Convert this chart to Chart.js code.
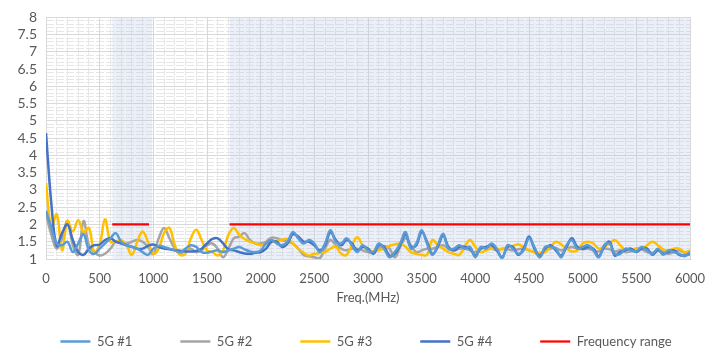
<!DOCTYPE html>
<html>
<head>
<meta charset="utf-8">
<title>VSWR</title>
<script src="https://cdn.jsdelivr.net/npm/chart.js@4.4.1/dist/chart.umd.min.js"></script>
<style>
  html, body { margin: 0; padding: 0; background: #fff; }
  .chart-box { width: 722px; height: 358px; position: relative; }
</style>
</head>
<body>
<div class="chart-box"><canvas id="vswrChart"></canvas></div>
<script>
// frequency points (MHz)
const freq = [
  0, 50, 100, 150, 200, 250, 300, 350, 400, 450,
  500, 550, 600, 650, 700, 750, 800, 850, 900, 950,
  1000, 1050, 1100, 1150, 1200, 1250, 1300, 1350, 1400, 1450,
  1500, 1550, 1600, 1650, 1700, 1750, 1800, 1850, 1900, 1950,
  2000, 2050, 2100, 2150, 2200, 2250, 2300, 2350, 2400, 2450,
  2500, 2550, 2600, 2650, 2700, 2750, 2800, 2850, 2900, 2950,
  3000, 3050, 3100, 3150, 3200, 3250, 3300, 3350, 3400, 3450,
  3500, 3550, 3600, 3650, 3700, 3750, 3800, 3850, 3900, 3950,
  4000, 4050, 4100, 4150, 4200, 4250, 4300, 4350, 4400, 4450,
  4500, 4550, 4600, 4650, 4700, 4750, 4800, 4850, 4900, 4950,
  5000, 5050, 5100, 5150, 5200, 5250, 5300, 5350, 5400, 5450,
  5500, 5550, 5600, 5650, 5700, 5750, 5800, 5850, 5900, 5950,
  6000
];

const ant1 = [
  2.4, 1.9, 1.45, 1.4, 1.5, 1.2, 1.45, 1.72, 1.25, 1.15,
  1.3, 1.45, 1.6, 1.75, 1.5, 1.4, 1.35, 1.3, 1.2, 1.12,
  1.3, 1.38, 1.35, 1.3, 1.25, 1.2, 1.3, 1.4, 1.35, 1.2,
  1.18, 1.22, 1.25, 1.2, 1.25, 1.3, 1.35, 1.28, 1.22, 1.2,
  1.25, 1.45, 1.55, 1.45, 1.4, 1.5, 1.78, 1.6, 1.45, 1.55,
  1.45, 1.2, 1.45, 1.83, 1.5, 1.45, 1.6, 1.4, 1.2, 1.4,
  1.25, 1.2, 1.45, 1.3, 1.05, 1.2, 1.45, 1.78, 1.3, 1.45,
  1.83, 1.45, 1.12, 1.4, 1.73, 1.3, 1.3, 1.4, 1.3, 1.35,
  1.05, 1.35, 1.3, 1.45, 1.3, 1.02, 1.4, 1.3, 1.15, 1.25,
  1.6, 1.35, 1.05, 1.35, 1.35, 1.3, 1.05, 1.4, 1.55, 1.3,
  1.35, 1.4, 1.25, 1.05, 1.4, 1.45, 1.15, 1.15, 1.3, 1.25,
  1.22, 1.35, 1.25, 1.15, 1.3, 1.12, 1.25, 1.2, 1.15, 1.08,
  1.2
];

const ant2 = [
  2.3, 1.7, 1.3, 1.6, 2.1, 1.4, 1.12, 2.1, 1.4, 1.2,
  1.1, 1.15, 1.3, 1.5, 1.5, 1.45, 1.5, 1.55, 1.5, 1.35,
  1.15, 1.6, 1.9, 1.6, 1.3, 1.15, 1.25, 1.3, 1.2, 1.25,
  1.4, 1.45, 1.3, 1.05, 1.3, 1.6, 1.65, 1.75, 1.55, 1.45,
  1.45, 1.5, 1.62, 1.6, 1.55, 1.5, 1.45, 1.3, 1.12, 1.08,
  1.05, 1.02, 1.3, 1.55, 1.4, 1.3, 1.25, 1.3, 1.3, 1.25,
  1.2, 1.18, 1.3, 1.38, 1.3, 1.05, 1.35, 1.6, 1.4, 1.2,
  1.25, 1.3, 1.3, 1.35, 1.4, 1.3, 1.25, 1.3, 1.3, 1.25,
  1.2, 1.3, 1.35, 1.3, 1.25, 1.3, 1.28, 1.25, 1.28, 1.3,
  1.25, 1.2, 1.07, 1.25, 1.3, 1.32, 1.25, 1.3, 1.35, 1.3,
  1.28, 1.3, 1.25, 1.22, 1.3, 1.28, 1.22, 1.25, 1.2, 1.22,
  1.3, 1.28, 1.2, 1.18, 1.25, 1.22, 1.15, 1.2, 1.25, 1.18,
  1.22
];

const ant3 = [
  3.2, 1.9, 2.3, 1.25, 2.1, 1.8, 2.12, 1.78, 1.9, 1.2,
  1.42, 2.15, 1.5, 1.5, 1.55, 1.4, 1.12, 1.5, 1.8, 1.5,
  1.15, 1.3, 1.75, 1.9, 1.4, 1.12, 1.15, 1.6, 1.85, 1.55,
  1.25, 1.2, 1.1, 1.25, 1.7, 1.9, 1.7, 1.58, 1.5, 1.45,
  1.4, 1.42, 1.5, 1.52, 1.56, 1.58, 1.45, 1.3, 1.18, 1.1,
  1.15, 1.17, 1.2, 1.3, 1.35, 1.15, 1.12, 1.4, 1.63, 1.4,
  1.25, 1.22, 1.25, 1.3, 1.38, 1.42, 1.45, 1.35, 1.2, 1.15,
  1.12, 1.12, 1.55, 1.4, 1.3, 1.2, 1.15, 1.12, 1.35, 1.55,
  1.35, 1.2, 1.25, 1.3, 1.3, 1.28, 1.35, 1.38, 1.42, 1.35,
  1.25, 1.2, 1.18, 1.2, 1.35, 1.5, 1.42, 1.3, 1.22, 1.25,
  1.45, 1.5, 1.45, 1.3, 1.35, 1.45, 1.55, 1.4, 1.25, 1.28,
  1.3, 1.3, 1.4, 1.5, 1.4, 1.28, 1.25, 1.3, 1.3, 1.2,
  1.25
];

const ant4 = [
  4.65, 2.6, 1.38, 1.75, 2.0, 1.55, 1.2, 1.12, 1.3, 1.4,
  1.42, 1.55, 1.6, 1.5, 1.45, 1.4, 1.35, 1.3, 1.3, 1.38,
  1.42, 1.35, 1.3, 1.28, 1.25, 1.24, 1.22, 1.22, 1.23, 1.3,
  1.45, 1.58, 1.6, 1.45, 1.28, 1.25, 1.2, 1.16, 1.15, 1.18,
  1.2, 1.3, 1.5, 1.5, 1.35, 1.45, 1.72, 1.65, 1.5, 1.5,
  1.4, 1.25, 1.4, 1.78, 1.55, 1.4, 1.55, 1.45, 1.25, 1.35,
  1.3, 1.15, 1.4, 1.35, 1.1, 1.15, 1.4, 1.7, 1.35, 1.4,
  1.78, 1.5, 1.15, 1.35, 1.68, 1.35, 1.25, 1.35, 1.35, 1.3,
  1.1, 1.3, 1.35, 1.4, 1.25, 1.05, 1.35, 1.35, 1.12, 1.3,
  1.65, 1.3, 1.1, 1.3, 1.4, 1.25, 1.1, 1.35, 1.6, 1.35,
  1.3, 1.35, 1.3, 1.08, 1.35, 1.5, 1.1, 1.2, 1.25, 1.3,
  1.2, 1.3, 1.3, 1.12, 1.25, 1.15, 1.2, 1.25, 1.12, 1.1,
  1.15
];

// frequency bands (MHz) and the VSWR limit drawn over them
const bandStart = [617, 1710];
const bandEnd = [960, 6000];
const shadeEnd = [990, 6000];
const limit = 2;

const textColor = '#595959';
const font = { family: 'Lato', size: 13 };

const toPoints = vals => freq.map((f, i) => ({ x: f, y: vals[i] }));

function series(label, vals, color, order) {
    return {
        label: label,
        data: toPoints(vals),
        borderColor: color,
        backgroundColor: color,
        borderWidth: 2.5,
        pointRadius: 0,
        tension: 0.4,
        fill: false,
        order: order
    };
}

// red limit line, broken between the two bands
const limitPoints = [];
bandStart.forEach((s, i) => {
    if (i > 0) limitPoints.push({ x: s, y: null });
    limitPoints.push({ x: s, y: limit }, { x: bandEnd[i], y: limit });
});

const shades = bandStart.map((s, i) => ({
    data: [{ x: s, y: 8 }, { x: shadeEnd[i], y: 8 }],
    borderWidth: 0,
    pointRadius: 0,
    backgroundColor: 'rgba(180, 199, 231, 0.28)',
    fill: 'start',
    order: 10
}));

const ctx = document.getElementById('vswrChart').getContext('2d');
const vswrChart = new Chart(ctx, {
    type: 'line',
    data: {
        datasets: [
            series('5G #1', ant1, '#5B9BD5', 2),
            series('5G #2', ant2, '#A5A5A5', 5),
            series('5G #3', ant3, '#FFC000', 4),
            series('5G #4', ant4, '#4472C4', 3),
            {
                label: 'Frequency range',
                data: limitPoints,
                borderColor: '#FF0000',
                backgroundColor: '#FF0000',
                borderWidth: 2.25,
                pointRadius: 0,
                tension: 0,
                spanGaps: false,
                order: 1
            },
            ...shades
        ]
    },
    options: {
        responsive: true,
        maintainAspectRatio: false,
        animation: false,
        events: [],
        layout: { padding: { top: 11, left: 10, right: 0, bottom: 0 } },
        scales: {
            x: {
                type: 'linear',
                min: 0,
                max: 6000,
                ticks: {
                    stepSize: 500, color: textColor, font: font, padding: 12, maxRotation: 0,
                    autoSkip: false,
                    callback: v => String(v)
                },
                grid: { color: '#D9D9D9', drawTicks: false, z: 0 },
                border: { color: '#BFBFBF' },
                title: {
                    display: true,
                    text: 'Freq.(MHz)',
                    color: textColor,
                    font: font,
                    padding: { top: 0, bottom: -19 }
                },
                afterFit: s => { s.height = 28; }
            },
            xMinor: {
                type: 'linear',
                position: 'bottom',
                min: 0,
                max: 6000,
                ticks: { stepSize: 100, display: false },
                grid: { color: '#E6E6E6', drawTicks: false, z: -1 },
                border: { display: false, dash: [8, 2] },
                afterFit: s => { s.height = 0; }
            },
            y: {
                min: 1,
                max: 8,
                ticks: {
                    stepSize: 0.5, color: textColor, font: { family: 'Lato', size: 14 }, padding: 9,
                    autoSkip: false,
                    callback: v => String(v)
                },
                grid: { color: '#D9D9D9', drawTicks: false, z: 0 },
                border: { color: '#D9D9D9' },
                afterFit: s => { s.width = 36; }
            },
            yMinor: {
                position: 'left',
                min: 1,
                max: 8,
                ticks: { stepSize: 0.1, display: false },
                grid: { color: '#E6E6E6', drawTicks: false, z: -1 },
                border: { display: false, dash: [8, 2] },
                afterFit: s => { s.width = 0; }
            },
            // keeps the right margin of the plot
            yRight: {
                position: 'right',
                min: 1,
                max: 8,
                ticks: { display: false },
                grid: { display: false },
                border: { display: false },
                afterFit: s => { s.width = 32; }
            }
        },
        plugins: {
            legend: {
                position: 'bottom',
                labels: {
                    color: textColor,
                    font: font,
                    usePointStyle: true,
                    pointStyle: 'line',
                    pointStyleWidth: 30,
                    padding: 48,
                    filter: item => item.text !== undefined,
                    sort: (a, b) => a.datasetIndex - b.datasetIndex
                }
            },
            tooltip: { enabled: false }
        }
    }
});
</script>
</body>
</html>
